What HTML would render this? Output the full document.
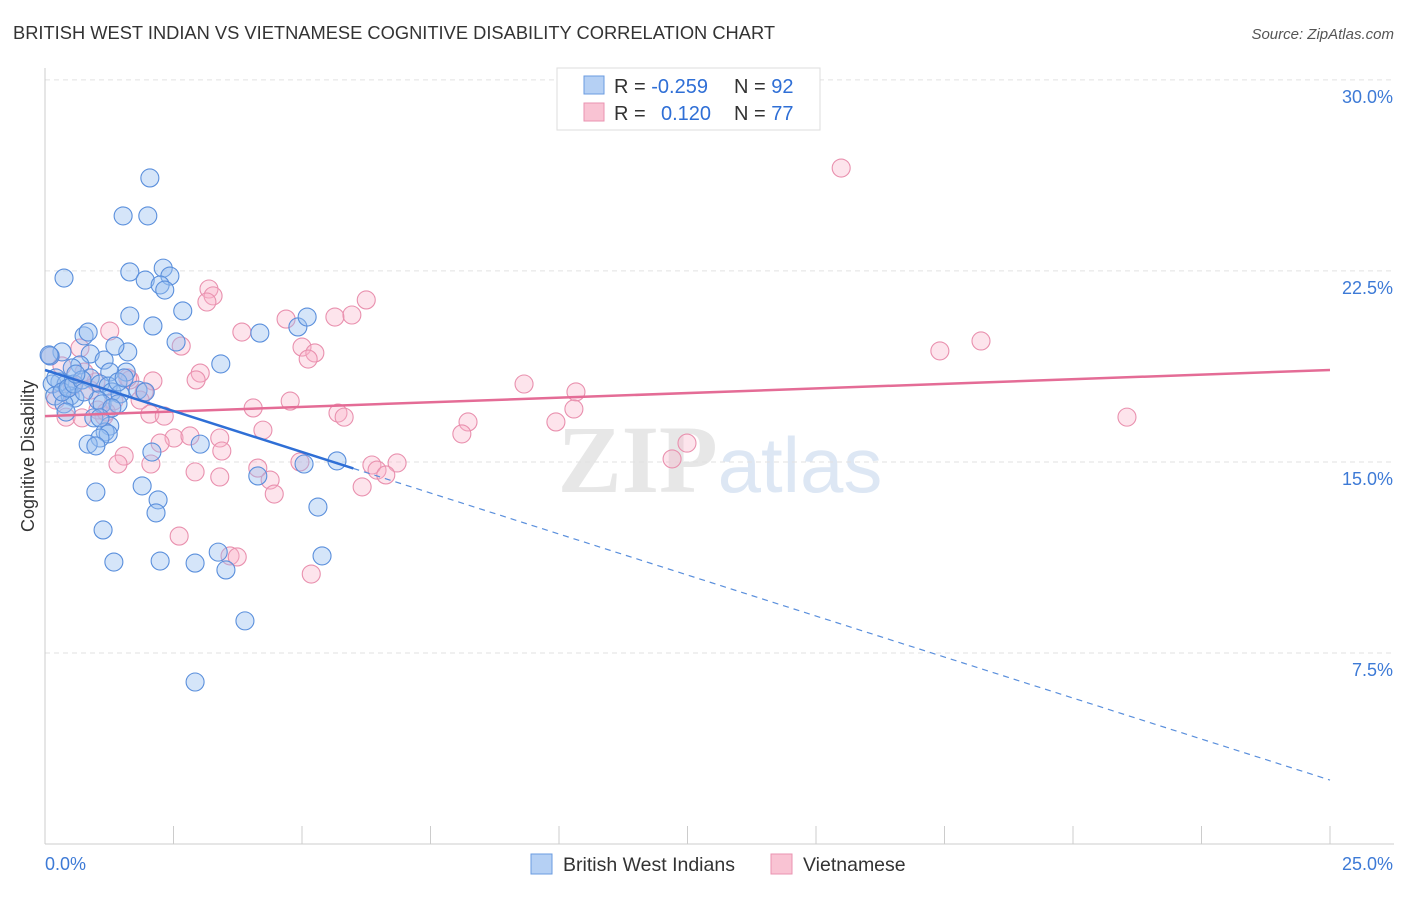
<!DOCTYPE html>
<html><head><meta charset="utf-8"><style>
body{margin:0;background:#fff;font-family:"Liberation Sans",sans-serif}
svg text{font-family:"Liberation Sans",sans-serif}
</style></head><body>
<svg id="chart" width="1406" height="892" viewBox="0 0 1406 892" xmlns="http://www.w3.org/2000/svg">
<text x="13" y="39" font-size="18.3" fill="#333" textLength="762">BRITISH WEST INDIAN VS VIETNAMESE COGNITIVE DISABILITY CORRELATION CHART</text>
<text x="1394" y="39" font-size="15" fill="#555" text-anchor="end" font-style="italic">Source: ZipAtlas.com</text>
<text x="720" y="492" font-size="96" text-anchor="middle" fill="#ddd" opacity="0.6"><tspan font-family="Liberation Serif" font-weight="bold" fill="#d8d8d8">ZIP</tspan><tspan fill="#c8d8ee" font-size="78">atlas</tspan></text>
<g id="grid"></g>
<g id="axes"></g>
<g id="marks"></g>
<text transform="translate(34,456) rotate(-90)" font-size="18" fill="#333" text-anchor="middle">Cognitive Disability</text>
<g>
<rect x="557" y="68" width="263" height="62" fill="#fff" stroke="#ddd"/>
<rect x="584" y="76" width="20" height="18" fill="#b5d0f4" stroke="#6a9be0"/>
<rect x="584" y="103" width="20" height="18" fill="#f9c3d3" stroke="#ea93b0"/>
<text x="614" y="93" font-size="20" fill="#333">R = <tspan fill="#2f6fd6">-0.259</tspan><tspan x="734">N = </tspan><tspan fill="#2f6fd6">92</tspan></text>
<text x="614" y="120" font-size="20" fill="#333">R = <tspan x="661" fill="#2f6fd6">0.120</tspan><tspan x="734">N = </tspan><tspan fill="#2f6fd6">77</tspan></text>
</g>
<g>
<rect x="531" y="854" width="21" height="20" fill="#b5d0f4" stroke="#6a9be0"/>
<text x="563" y="871" font-size="19.5" fill="#333">British West Indians</text>
<rect x="771" y="854" width="21" height="20" fill="#f9c3d3" stroke="#ea93b0"/>
<text x="803" y="871" font-size="19.5" fill="#333">Vietnamese</text>
</g>
</svg>
<script>
const yTicks=[7.5,15.0,22.5,30.0];
const yTickLabels=["7.5%","15.0%","22.5%","30.0%"];
const xTickValues=[0,2.5,5,7.5,10,12.5,15,17.5,20,22.5,25];
const xEndLabels=["0.0%","25.0%"];
const blueX=[2.04,1.52,2.00,0.37,1.65,2.30,2.43,1.95,2.24,2.33,2.68,1.65,2.10,4.18,4.92,5.10,2.55,0.76,0.84,0.33,0.10,0.88,1.15,1.61,1.36,3.42,0.68,0.53,1.58,1.26,0.88,0.29,0.14,0.41,1.07,1.23,1.30,1.46,1.81,1.95,0.19,0.49,0.58,1.03,0.37,1.11,1.42,0.95,1.26,1.17,1.23,1.07,0.84,0.99,2.08,3.02,1.89,2.20,2.16,0.99,1.13,5.31,4.14,5.04,5.68,3.37,5.39,2.24,1.34,2.92,3.52,3.89,2.92,0.08,0.21,0.33,0.45,0.56,0.72,1.42,1.54,0.41,1.30,1.07,0.76,0.60];
const blueY=[26.15,24.66,24.66,22.22,22.46,22.61,22.30,22.14,21.95,21.75,20.93,20.73,20.34,20.06,20.30,20.69,19.71,19.95,20.10,19.32,19.16,19.24,19.00,19.32,19.55,18.85,18.81,18.69,18.53,18.53,18.30,18.14,18.06,18.06,18.06,17.98,17.75,17.67,17.82,17.75,17.59,17.59,17.51,17.43,17.28,17.28,17.28,16.73,16.41,16.18,16.10,15.94,15.70,15.63,15.39,15.70,14.06,13.51,13.00,13.82,12.33,13.23,14.45,14.92,15.04,11.46,11.31,11.11,11.07,11.03,10.76,8.76,6.36,19.20,18.30,17.75,17.90,18.06,18.22,18.14,18.30,16.96,17.12,16.73,17.75,18.45];
const pinkX=[15.49,3.19,3.27,3.15,6.25,5.97,5.64,4.69,3.83,1.26,2.65,5.00,5.25,5.12,0.68,17.41,18.21,3.02,4.77,4.05,9.32,10.33,10.29,9.94,8.23,8.11,5.70,5.82,1.65,2.10,1.93,1.34,1.15,2.04,2.32,0.41,2.51,2.82,3.40,2.24,3.44,4.24,1.54,1.42,2.06,2.92,3.40,4.14,4.96,6.36,6.85,6.46,6.63,6.17,4.38,4.46,12.20,12.49,21.05,2.61,3.60,3.74,5.18,0.10,0.21,0.99,0.53,0.88,1.61,1.85,0.72,2.94,1.03,1.19,0.76,0.33];
const pinkY=[26.54,21.79,21.52,21.28,21.36,20.77,20.69,20.61,20.10,20.14,19.55,19.51,19.28,19.04,19.47,19.36,19.75,18.49,17.39,17.12,18.06,17.75,17.08,16.57,16.57,16.10,16.92,16.76,18.22,18.18,17.75,17.40,16.80,16.88,16.80,16.76,15.94,16.02,15.94,15.74,15.43,16.25,15.23,14.92,14.92,14.61,14.41,14.76,15.00,14.88,14.96,14.68,14.49,14.02,14.29,13.74,15.12,15.74,16.76,12.09,11.31,11.27,10.60,19.16,17.43,18.14,17.98,17.82,18.30,17.43,16.73,18.22,17.04,16.96,18.53,18.77];
const blueTrend=[18.61,2.51];   // y at x=0 and x=25
const blueSolidEnd=6.0;
const pinkTrend=[16.80,18.61];

const NS="http://www.w3.org/2000/svg";
const X0=45,X1=1330,Y0=844,PX_PER_Y=25.47;
function sx(v){return X0+(X1-X0)*v/25;}
function sy(v){return Y0-v*PX_PER_Y;}
function mk(tag,attrs,parent){const e=document.createElementNS(NS,tag);for(const k in attrs)e.setAttribute(k,attrs[k]);parent.appendChild(e);return e;}
const grid=document.getElementById('grid'),axes=document.getElementById('axes'),marks=document.getElementById('marks');
yTicks.forEach((t,i)=>{
  const l=mk('line',{x1:X0,x2:1394,y1:sy(t),y2:sy(t),stroke:'#e2e2e2','stroke-dasharray':'5,4'},grid);
  
  
  const tx=mk('text',{x:1393,y:sy(t)+23,'font-size':18,fill:'#3d7ad6','text-anchor':'end'},axes);
  tx.textContent=yTickLabels[i];
  
  
});
const yl=mk('line',{x1:X0,x2:X0,y1:68,y2:Y0,stroke:'#ccc'},axes);


const xl=mk('line',{x1:X0,x2:1394,y1:Y0,y2:Y0,stroke:'#ccc'},axes);


xTickValues.forEach(t=>{
  const l=mk('line',{x1:sx(t),x2:sx(t),y1:Y0,y2:Y0-18,stroke:'#ccc'},axes);
  
  
});
[[0,'start',45],[25,'end',1393]].forEach((d,i)=>{
  const tx=mk('text',{x:d[2],y:870,'font-size':18,fill:'#3d7ad6','text-anchor':d[1]},axes);
  tx.textContent=xEndLabels[i];
  
  
});
function dots(xs,ys,fill,stroke,name){
  xs.forEach((x,i)=>{
    const c=mk('circle',{cx:sx(x),cy:sy(ys[i]),r:9,fill:fill,stroke:stroke,'stroke-width':1.1},marks);
    
    
  });
}
dots(pinkX,pinkY,'rgba(248,178,200,0.35)','#e990ae','vietnamese-point');
dots(blueX,blueY,'rgba(150,190,240,0.4)','#5a8fdc','british-west-indian-point');
const pl=mk('line',{x1:sx(0),y1:sy(pinkTrend[0]),x2:sx(25),y2:sy(pinkTrend[1]),stroke:'#e46c96','stroke-width':2.5},marks);


const by=v=>blueTrend[0]+(blueTrend[1]-blueTrend[0])*v/25;
const bl=mk('line',{x1:sx(0),y1:sy(by(0)),x2:sx(blueSolidEnd),y2:sy(by(blueSolidEnd)),stroke:'#2f6fd6','stroke-width':2.5},marks);


const bd=mk('line',{x1:sx(blueSolidEnd),y1:sy(by(blueSolidEnd)),x2:sx(25),y2:sy(by(25)),stroke:'#5a8fdc','stroke-width':1.2,'stroke-dasharray':'6,5'},marks);


</script>
</body></html>
